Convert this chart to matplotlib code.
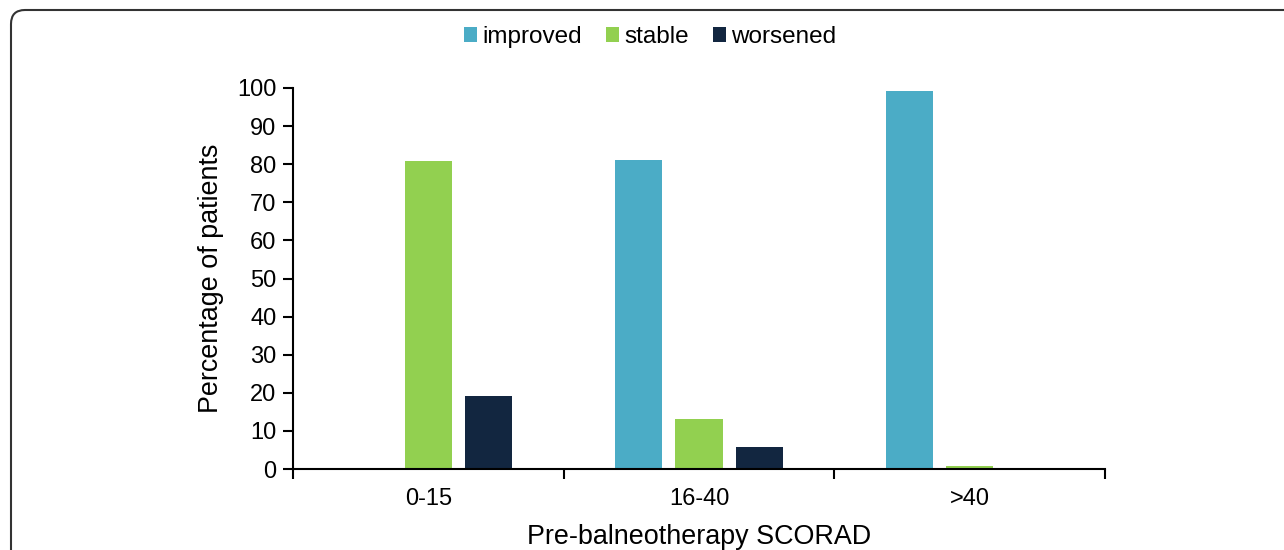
import matplotlib
matplotlib.use("Agg")
import matplotlib.pyplot as plt
import numpy as np
from matplotlib.patches import FancyBboxPatch

categories = ["0-15", "16-40", ">40"]
series_names = ["improved", "stable", "worsened"]
improved = [0.0, 81.0, 99.2]
stable = [80.8, 13.1, 0.8]
worsened = [19.2, 5.8, 0.0]
colors = ["#4BACC6", "#92D050", "#122640"]
yticks = list(range(0, 101, 10))

plt.rcParams['font.family'] = ['Liberation Sans', 'DejaVu Sans']

fig = plt.figure(figsize=(12.84, 5.5), dpi=100)
ax = fig.add_axes([293/1284, 1-469/550, (1105-293)/1284, (469-88)/550])

x = np.arange(len(categories))
w = 0.174
off = 0.222
for i, (vals, name, c) in enumerate(zip([improved, stable, worsened], series_names, colors)):
    ax.bar(x + (i-1)*off, vals, width=w, color=c, label=name, zorder=2)

ax.set_xlim(-0.5, 2.5)
ax.set_ylim(0, 100)
ax.set_yticks(yticks)
ax.set_xticks(x)
ax.set_xticklabels(categories)
ax.set_xticks([-0.5, 0.5, 1.5, 2.5], minor=True)
ax.tick_params(axis='x', which='major', length=0, pad=14, labelsize=17)
ax.tick_params(axis='x', which='minor', length=7, width=1.5, direction='out')
ax.tick_params(axis='y', length=7, width=1.5, direction='out', labelsize=17, pad=5)
for s in ['top', 'right']:
    ax.spines[s].set_visible(False)
for s in ['left', 'bottom']:
    ax.spines[s].set_linewidth(1.5)
ax.set_ylabel("Percentage of patients", fontsize=19.4, labelpad=9)
ax.set_xlabel("Pre-balneotherapy SCORAD", fontsize=19.4, labelpad=10)

leg = fig.legend(loc='center', bbox_to_anchor=(650/1284, 1-37/550), ncol=3, frameon=False,
                 fontsize=17.5, handlelength=0.55, handleheight=0.55, handletextpad=0.2,
                 columnspacing=1.0)

box = FancyBboxPatch((11, -30), 1320, 570, boxstyle="round,pad=0,rounding_size=14",
                     transform=None, fill=False, edgecolor="#333333", linewidth=1.5)
fig.add_artist(box)

fig.savefig("out.png", dpi=100)
